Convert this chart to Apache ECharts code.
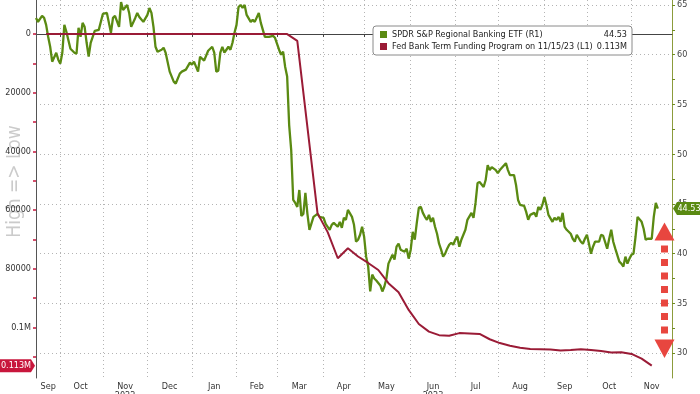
<!DOCTYPE html>
<html><head><meta charset="utf-8">
<script src="https://cdn.jsdelivr.net/npm/echarts@6/dist/echarts.min.js"></script>
<style>html,body{margin:0;padding:0;background:#fff}#c{width:700px;height:394px}</style>
</head><body><div id="c"></div>
<script>
// ---------- data ----------
const axisStart = '2022-09-15';
const axisEnd = '2023-11-29';
const monthNames = ['Jan','Feb','Mar','Apr','May','Jun','Jul','Aug','Sep','Oct','Nov','Dec'];
const yearLabels = {'2022-11':'2022','2023-06':'2023'};
const leftLabelValues = [0,20000,40000,60000,80000,100000];
const leftTickValues = [0,10000,20000,30000,40000,50000,60000,70000,80000,90000,100000,110000];
const rightLabelValues = [30,35,40,45,50,55,60,65];
const rightTickValues = [30,32.5,35,37.5,40,42.5,45,47.5,50,52.5,55,57.5,60,62.5,65];
const etfName = 'SPDR S&P Regional Banking ETF (R1)';
const btfpName = 'Fed Bank Term Funding Program on 11/15/23 (L1)';

const etfSeries = [
['2022-09-15',63.7],['2022-09-16',63.3],['2022-09-20',63.9],['2022-09-21',63.7],['2022-09-22',63.0],['2022-09-23',61.8],
['2022-09-26',60.8],['2022-09-27',59.3],['2022-09-29',60.2],['2022-09-30',59.5],['2022-10-03',59.1],['2022-10-04',60.2],
['2022-10-05',63.0],['2022-10-06',62.3],['2022-10-10',60.6],['2022-10-12',60.2],['2022-10-13',60.1],['2022-10-14',62.7],
['2022-10-17',61.8],['2022-10-18',63.2],['2022-10-19',62.8],['2022-10-20',61.2],['2022-10-21',59.8],['2022-10-24',61.2],
['2022-10-26',62.4],['2022-10-28',62.5],['2022-11-01',64.1],['2022-11-03',64.2],['2022-11-04',63.2],['2022-11-07',62.2],
['2022-11-08',63.7],['2022-11-09',63.9],['2022-11-11',62.8],['2022-11-14',65.3],['2022-11-15',64.5],['2022-11-17',65.0],
['2022-11-18',64.2],['2022-11-21',62.8],['2022-11-23',63.7],['2022-11-24',64.2],['2022-11-25',63.8],['2022-11-29',63.3],
['2022-12-01',64.0],['2022-12-02',64.7],['2022-12-05',64.2],['2022-12-06',62.8],['2022-12-07',60.8],['2022-12-08',60.3],
['2022-12-12',60.5],['2022-12-13',60.7],['2022-12-14',60.2],['2022-12-16',58.3],['2022-12-20',57.3],['2022-12-21',57.1],
['2022-12-23',58.1],['2022-12-26',58.3],['2022-12-28',58.5],['2022-12-30',59.2],['2023-01-02',59.0],['2023-01-03',59.3],
['2023-01-05',58.3],['2023-01-06',59.8],['2023-01-10',59.4],['2023-01-12',60.4],['2023-01-16',60.8],['2023-01-17',60.2],
['2023-01-18',58.3],['2023-01-19',58.4],['2023-01-20',60.2],['2023-01-23',60.8],['2023-01-24',60.2],['2023-01-25',60.5],
['2023-01-26',60.8],['2023-01-27',60.5],['2023-01-30',61.2],['2023-01-31',62.2],['2023-02-01',63.0],['2023-02-02',64.8],
['2023-02-03',65.0],['2023-02-06',64.7],['2023-02-07',65.0],['2023-02-08',64.0],['2023-02-10',63.3],['2023-02-13',63.5],
['2023-02-14',63.3],['2023-02-16',64.2],['2023-02-17',63.2],['2023-02-20',62.5],['2023-02-21',61.8],['2023-02-23',61.8],
['2023-02-27',61.9],['2023-02-28',61.7],['2023-03-02',60.5],['2023-03-03',60.0],['2023-03-06',60.3],['2023-03-07',58.8],
['2023-03-08',57.8],['2023-03-09',52.9],['2023-03-10',50.4],['2023-03-13',45.4],['2023-03-14',45.1],['2023-03-15',44.7],
['2023-03-16',46.4],['2023-03-17',43.8],['2023-03-20',44.0],['2023-03-21',46.1],['2023-03-22',44.0],['2023-03-23',42.4],
['2023-03-27',43.7],['2023-03-29',44.0],['2023-03-30',43.7],['2023-04-03',43.6],['2023-04-04',43.0],['2023-04-06',42.4],
['2023-04-07',42.9],['2023-04-10',43.1],['2023-04-12',42.7],['2023-04-13',43.2],['2023-04-14',42.6],['2023-04-17',43.6],
['2023-04-18',43.4],['2023-04-19',44.4],['2023-04-21',43.7],['2023-04-24',42.9],['2023-04-25',41.2],['2023-04-26',41.4],
['2023-04-27',41.9],['2023-04-28',42.7],['2023-05-01',41.7],['2023-05-02',39.7],['2023-05-03',38.7],['2023-05-04',36.2],
['2023-05-05',37.9],['2023-05-08',37.5],['2023-05-09',37.3],['2023-05-11',36.8],['2023-05-12',36.2],['2023-05-15',36.7],
['2023-05-16',37.5],['2023-05-17',39.0],['2023-05-19',39.9],['2023-05-22',39.4],['2023-05-23',40.7],['2023-05-24',41.0],
['2023-05-25',40.4],['2023-05-29',40.2],['2023-05-30',40.5],['2023-05-31',39.5],['2023-06-01',40.4],['2023-06-02',42.2],
['2023-06-05',41.4],['2023-06-06',43.1],['2023-06-07',44.6],['2023-06-08',44.7],['2023-06-09',44.1],['2023-06-12',43.7],
['2023-06-13',43.4],['2023-06-14',43.9],['2023-06-15',43.2],['2023-06-16',43.6],['2023-06-19',42.7],['2023-06-20',42.0],
['2023-06-21',41.0],['2023-06-22',40.4],['2023-06-23',39.7],['2023-06-26',40.0],['2023-06-27',40.5],['2023-06-28',40.9],
['2023-06-29',41.1],['2023-06-30',40.9],['2023-07-03',41.4],['2023-07-04',41.7],['2023-07-05',40.7],['2023-07-06',41.4],
['2023-07-07',41.9],['2023-07-10',42.4],['2023-07-11',43.4],['2023-07-13',44.1],['2023-07-14',43.6],['2023-07-17',45.1],
['2023-07-18',47.1],['2023-07-19',47.2],['2023-07-21',46.7],['2023-07-24',47.4],['2023-07-25',48.9],['2023-07-26',48.4],
['2023-07-27',48.7],['2023-07-31',48.4],['2023-08-01',48.1],['2023-08-02',48.4],['2023-08-07',49.1],['2023-08-08',48.4],
['2023-08-09',47.9],['2023-08-11',47.9],['2023-08-14',46.9],['2023-08-15',45.4],['2023-08-16',44.9],['2023-08-18',44.8],
['2023-08-21',44.2],['2023-08-22',43.4],['2023-08-23',43.9],['2023-08-25',44.1],['2023-08-28',43.7],['2023-08-29',44.7],
['2023-08-30',44.4],['2023-08-31',44.9],['2023-09-01',45.7],['2023-09-04',44.9],['2023-09-05',43.9],['2023-09-07',43.2],
['2023-09-08',43.6],['2023-09-11',43.4],['2023-09-12',43.7],['2023-09-13',43.2],['2023-09-14',44.1],['2023-09-15',42.7],
['2023-09-18',42.4],['2023-09-20',42.0],['2023-09-21',41.5],['2023-09-22',41.2],['2023-09-25',41.9],['2023-09-27',41.2],
['2023-09-28',41.0],['2023-09-29',41.5],['2023-10-02',41.9],['2023-10-03',41.0],['2023-10-04',40.0],['2023-10-05',40.7],
['2023-10-06',41.2],['2023-10-10',41.2],['2023-10-11',41.9],['2023-10-12',41.8],['2023-10-16',40.5],['2023-10-17',41.5],
['2023-10-18',42.4],['2023-10-19',41.2],['2023-10-20',40.5],['2023-10-24',39.2],['2023-10-25',39.0],['2023-10-26',38.7],
['2023-10-27',39.7],['2023-10-30',39.0],['2023-10-31',39.5],['2023-11-01',39.9],['2023-11-02',40.0],['2023-11-03',41.7],
['2023-11-06',43.7],['2023-11-08',43.2],['2023-11-09',42.5],['2023-11-10',41.4],['2023-11-13',41.5],['2023-11-15',41.5],
['2023-11-16',43.7],['2023-11-17',45.1],['2023-11-20',44.53]
];

const btfpSeries = [
['2022-09-22',0],['2023-03-08',0],['2023-03-15',2300],['2023-03-29',61100],['2023-04-05',67500],['2023-04-12',76400],
['2023-04-19',73000],['2023-04-26',75800],['2023-05-03',78000],['2023-05-10',80400],['2023-05-17',84900],['2023-05-24',88000],
['2023-05-31',94000],['2023-06-07',98800],['2023-06-14',101400],['2023-06-21',102600],['2023-06-28',102800],['2023-07-05',101900],
['2023-07-12',102000],['2023-07-19',102200],['2023-07-26',104000],['2023-08-02',105300],['2023-08-09',106200],['2023-08-16',106900],
['2023-08-23',107300],['2023-08-30',107400],['2023-09-06',107500],['2023-09-13',107800],['2023-09-20',107700],['2023-09-27',107400],
['2023-10-04',107700],['2023-10-11',108000],['2023-10-18',108500],['2023-10-25',108400],['2023-11-01',109000],['2023-11-08',110600],
['2023-11-15',113000]
];

// ---------- helpers ----------
const F = "'DejaVu Sans Condensed','DejaVu Sans',sans-serif";
const GREEN = '#5a8a12', MAROON = '#9a1b36', TAGRED = '#c8163c', ARROW = '#e8463f';

function weekdays(a, b) {
  const out = [];
  let d = new Date(a + 'T00:00:00Z');
  const e = new Date(b + 'T00:00:00Z');
  while (d <= e) {
    const w = d.getUTCDay();
    if (w !== 0 && w !== 6) out.push(d.toISOString().slice(0, 10));
    d = new Date(d.getTime() + 86400000);
  }
  return out;
}
const categories = weekdays(axisStart, axisEnd);
const groups = {};
categories.forEach((c, i) => { const k = c.slice(0, 7); (groups[k] = groups[k] || []).push(i); });
const monthStart = new Set();
const monthMid = new Set();
Object.keys(groups).forEach(k => {
  const g = groups[k];
  if (g[0] > 0) monthStart.add(g[0]);
  monthMid.add(g[Math.round((g.length - 1) / 2)]);
});

const lastEtf = etfSeries[etfSeries.length - 1][1];
const lastBtfp = btfpSeries[btfpSeries.length - 1][1];
const legendValues = {};
legendValues[etfName] = lastEtf.toFixed(2);
legendValues[btfpName] = (lastBtfp / 1e6).toFixed(3) + 'M';

const chart = echarts.init(document.getElementById('c'), null, {renderer: 'canvas'});
const dotted = {color: '#b4b4b4', width: 1, type: [1, 3]};

chart.setOption({
  animation: false,
  backgroundColor: '#fff',
  textStyle: {fontFamily: F},
  grid: {left: 36, right: 28, top: 0, bottom: 16, containLabel: false, outerBoundsMode: 'none'},
  legend: {
    left: 373, top: 26, orient: 'vertical', icon: 'rect', itemWidth: 7, itemHeight: 7, itemGap: 3,
    padding: [4, 5, 4, 7], backgroundColor: '#fff', borderColor: '#8a8a8a', borderWidth: 1, borderRadius: 3,
    selectedMode: false,
    data: [etfName, btfpName],
    formatter: name => '{n|' + name + '}{v|' + legendValues[name] + '}',
    textStyle: {fontSize: 9, color: '#222', fontFamily: F,
      rich: {n: {width: 205, fontSize: 9, fontFamily: F, color: '#222'},
             v: {width: 30, align: 'right', fontSize: 9, fontFamily: F, color: '#222'}}}
  },
  xAxis: {
    type: 'category', data: categories, boundaryGap: false,
    axisLine: {lineStyle: {color: '#444', width: 1}},
    axisTick: {interval: i => monthStart.has(i), length: 3, lineStyle: {color: '#444'}},
    axisLabel: {interval: i => monthMid.has(i), fontSize: 9, color: '#333', margin: 4, fontFamily: F,
      formatter: v => { const k = v.slice(0, 7); const m = monthNames[parseInt(v.slice(5, 7), 10) - 1];
        return yearLabels[k] ? m + '\n' + yearLabels[k] : m; }},
    splitLine: {show: true, interval: i => monthStart.has(i), lineStyle: dotted}
  },
  yAxis: [
    {type: 'value', inverse: true, min: -11600, max: 117200, position: 'left',
     name: 'High => Low', nameLocation: 'middle', nameGap: 11, nameRotate: 90, nameMoveOverlap: false,
     nameTextStyle: {fontSize: 19, color: '#cbcbcb', fontFamily: F, padding: [0, 0, 0, 15]},
     axisLine: {show: true, lineStyle: {color: '#555'}},
     axisTick: {show: true, customValues: leftTickValues, length: 3, lineStyle: {color: TAGRED, width: 1.5}},
     axisLabel: {customValues: leftLabelValues, fontSize: 9, color: '#333', margin: 5, fontFamily: F,
       formatter: v => v >= 100000 ? (v / 1e6) + 'M' : String(v)},
     splitLine: {show: false}, z: 1},
    {type: 'value', min: 27.5, max: 65.5, position: 'right',
     axisLine: {show: true, lineStyle: {color: '#8c9c3c'}},
     axisTick: {show: true, customValues: rightTickValues, length: 3, lineStyle: {color: '#6f8c22'}},
     axisLabel: {customValues: rightLabelValues, fontSize: 9, color: '#444', margin: 5, fontFamily: F},
     splitLine: {show: false}},
    {type: 'value', min: 27.5, max: 65.5, position: 'right',
     axisLine: {show: false}, axisTick: {show: false, customValues: rightLabelValues},
     axisLabel: {show: false, customValues: rightLabelValues},
     splitLine: {show: true, lineStyle: dotted}}
  ],
  series: [
    {name: etfName, type: 'line', yAxisIndex: 1, data: etfSeries, symbol: 'none', showSymbol: false,
     lineStyle: {width: 2.3, color: GREEN}, itemStyle: {color: GREEN}, z: 3},
    {name: btfpName, type: 'line', yAxisIndex: 0, data: btfpSeries, symbol: 'none', showSymbol: false,
     lineStyle: {width: 2, color: MAROON}, itemStyle: {color: MAROON}, z: 4}
  ]
});

// value tags on axes and the annotation arrow
const yRed = chart.convertToPixel({yAxisIndex: 0}, lastBtfp);
const yGreen = chart.convertToPixel({yAxisIndex: 1}, lastEtf);
const g = [];
g.push({type: 'polygon', shape: {points: [[0, yRed - 6.5], [31, yRed - 6.5], [35, yRed], [31, yRed + 6.5], [0, yRed + 6.5]]},
  style: {fill: TAGRED}, z: 10});
g.push({type: 'text', x: 16, y: yRed, style: {text: legendValues[btfpName], fill: '#fff', font: '9px ' + F, align: 'center', verticalAlign: 'middle'}, z: 11});
g.push({type: 'polygon', shape: {points: [[673, yGreen], [677, yGreen - 6.5], [700, yGreen - 6.5], [700, yGreen + 6.5], [677, yGreen + 6.5]]},
  style: {fill: GREEN}, z: 10});
g.push({type: 'text', x: 689, y: yGreen, style: {text: legendValues[etfName], fill: '#fff', font: '9px ' + F, align: 'center', verticalAlign: 'middle'}, z: 11});
// arrow
const ax = 664.5;
g.push({type: 'polygon', shape: {points: [[ax, 222.5], [ax + 10, 240.5], [ax - 10, 240.5]]}, style: {fill: ARROW}, z: 9});
g.push({type: 'polygon', shape: {points: [[ax, 358], [ax + 10, 339.5], [ax - 10, 339.5]]}, style: {fill: ARROW}, z: 9});
[245.5, 259, 272.5, 286, 299.5, 313, 326.5].forEach(y => {
  g.push({type: 'rect', shape: {x: ax - 3.5, y: y, width: 7, height: 7}, style: {fill: ARROW}, z: 9});
});
chart.setOption({graphic: g});
</script>
</body></html>
